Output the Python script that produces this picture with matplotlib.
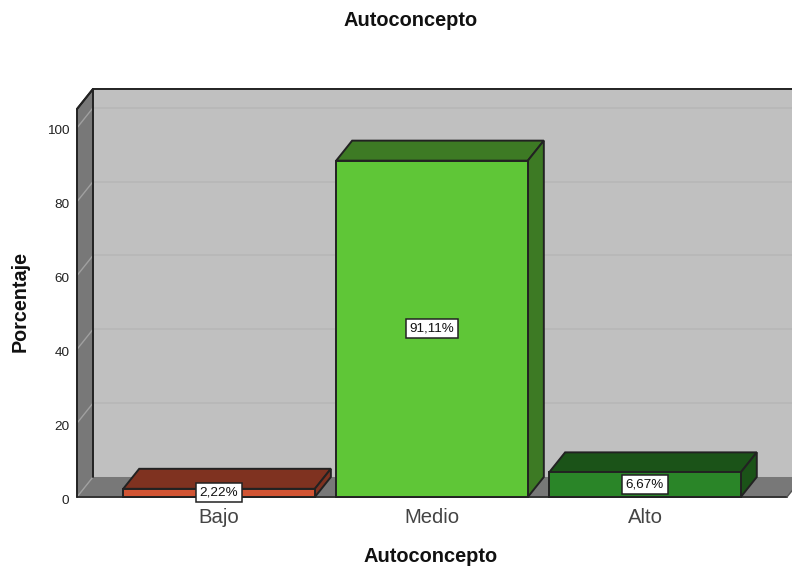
import matplotlib
matplotlib.use("Agg")
import matplotlib.pyplot as plt
from matplotlib.patches import Polygon
from matplotlib.transforms import ScaledTranslation

plt.rcParams["font.family"] = ["Liberation Sans", "DejaVu Sans"]

categories = ["Bajo", "Medio", "Alto"]
values = [2.22, 91.11, 6.67]
value_labels = ["2,22%", "91,11%", "6,67%"]
yticks = [0, 20, 40, 60, 80, 100]

front_colors = ["#d15433", "#5fc637", "#2a8528"]
dark_colors = ["#7f3220", "#3d7a24", "#1b5318"]

W, H = 792, 567
fig = plt.figure(figsize=(W / 100, H / 100), dpi=100)
# axes is the front plane of the 3d box, in pixel position
ax = fig.add_axes([77 / W, (H - 497) / H, 710 / W, 388 / H])
ax.set_xlim(-0.667, 2.667)
ax.set_ylim(0, 105.1)
for s in ax.spines.values():
    s.set_visible(False)
ax.patch.set_visible(False)

dx = 16 / 213
dy = 20 / 3.69
x0, x1 = ax.get_xlim()
y0, y1 = ax.get_ylim()
EDGE = "#222222"


def poly(pts, fc, ec=EDGE, lw=1.4, z=2):
    ax.add_patch(Polygon(pts, closed=True, fc=fc, ec=ec, lw=lw, zorder=z, clip_on=False, joinstyle="miter"))


def line(xs, ys, color=EDGE, lw=1.4, z=1.3):
    ax.plot(xs, ys, color=color, lw=lw, zorder=z, clip_on=False, solid_capstyle="round")


### the box walls
poly([(x0 + dx, y0 + dy), (x1 + dx, y0 + dy), (x1 + dx, y1 + dy), (x0 + dx, y1 + dy)], "#c0c0c0", ec="none", lw=0, z=1)
poly([(x0, y0), (x0 + dx, y0 + dy), (x0 + dx, y1 + dy), (x0, y1)], "#787878", ec="none", lw=0, z=1.2)
poly([(x0, y0), (x1, y0), (x1 + dx, y0 + dy), (x0 + dx, y0 + dy)], "#787878", ec="none", lw=0, z=1.2)
line([x0, x1], [y0, y0], color="#333333")
line([x1, x1 + dx], [y0, y0 + dy], color="#555555", lw=1.0)
line([x0, x0, x0 + dx, x1 + dx], [y0, y1, y1 + dy, y1 + dy])
line([x0 + dx, x0 + dx], [y0 + dy, y1 + dy])
line([x0, x0 + dx], [y1, y1 + dy])

### gridlines
for t in yticks[1:]:
    line([x0 + dx, x1 + dx], [t + dy, t + dy], color="#b6b6b6", lw=1.1, z=1.1)
    line([x0, x0 + dx], [t, t + dy], color="#a0a0a0", lw=1.0, z=1.25)
line([x0, x0 + dx], [0, dy], color="#a0a0a0", lw=1.0, z=1.25)

### bars
width = 0.9
for i, v in enumerate(values):
    l, r = i - width / 2, i + width / 2
    z = 3 + i * 0.1
    poly([(l, v), (r, v), (r + dx, v + dy), (l + dx, v + dy)], dark_colors[i], z=z)
    poly([(r, 0), (r + dx, dy), (r + dx, v + dy), (r, v)], dark_colors[i], z=z)
    ax.bar(i, v, width=width, color=front_colors[i], edgecolor=EDGE, linewidth=1.4, zorder=z + 0.05, clip_on=False)
    ax.text(i, v / 2, value_labels[i], ha="center", va="center", fontsize=9.7,
            color="#111111", zorder=5, clip_on=False,
            bbox=dict(boxstyle="square,pad=0.26", fc="white", ec="#222222", lw=1.1))

ax.set_xticks(range(len(categories)))
ax.set_xticklabels(categories, fontsize=14.6, color="#444444")
ax.set_yticks(yticks)
ax.set_yticklabels([str(t) for t in yticks], fontsize=9.7, color="#222222")
ax.tick_params(axis="y", length=0, pad=5.5)
ax.tick_params(axis="x", length=0, pad=8)
shift = ScaledTranslation(0, -1.5 / 72, fig.dpi_scale_trans)
for lab in ax.get_yticklabels():
    lab.set_transform(lab.get_transform() + shift)

fig.text(411 / W, 1 - 21 / H, "Autoconcepto", ha="center", va="center", fontsize=14.4, fontweight="bold", color="#111111")
fig.text(431 / W, 1 - 556 / H, "Autoconcepto", ha="center", va="center", fontsize=14.4, fontweight="bold", color="#111111")
fig.text(20 / W, 1 - 302 / H, "Porcentaje", ha="center", va="center", rotation=90, fontsize=14.2, fontweight="bold", color="#111111")

fig.savefig("out.png", dpi=100)
